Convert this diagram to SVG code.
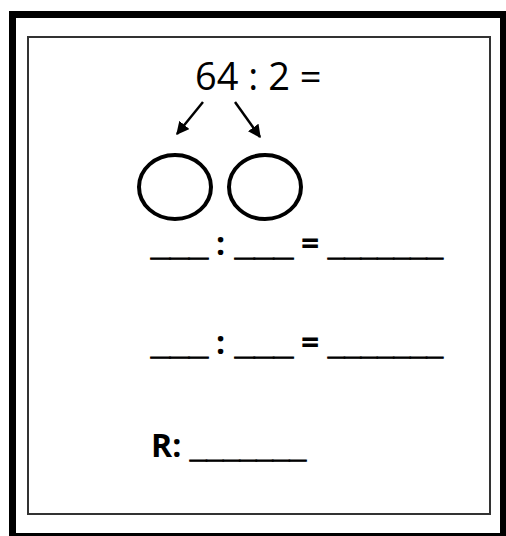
<svg xmlns="http://www.w3.org/2000/svg" width="506" height="536" viewBox="0 0 506 536">
<style>
.b{font-family:"Open Sans","Liberation Sans",sans-serif;font-weight:bold;font-size:32px;fill:#000}
.u{font-family:"Liberation Sans",Arial,sans-serif;font-weight:bold;font-size:32px;fill:#000;stroke:#000;stroke-width:1.2}
.r{font-family:"Open Sans","Liberation Sans",sans-serif;font-size:38px;fill:#000}
.c{fill:none;stroke:#000;stroke-width:4}
.a{stroke:#000;stroke-width:2.5;marker-end:url(#ah)}
</style>
<defs>
<marker id="ah" viewBox="0 0 10 10" refX="9" refY="5" markerUnits="userSpaceOnUse" markerWidth="13" markerHeight="13" orient="auto">
<path d="M0,0 L10,5 L0,10 Z" fill="#000"/>
</marker>
</defs>
<rect width="506" height="536" fill="#fff"/>
<rect x="12.5" y="14.5" width="491" height="522" fill="none" stroke="#000" stroke-width="7"/>
<rect x="28" y="37" width="462" height="477" fill="none" stroke="#333" stroke-width="2"/>
<g id="problem"><text class="r" x="195" y="90">64 : 2 =</text></g>
<g id="connectors">
<line class="a" x1="203" y1="102" x2="177" y2="134"/>
<line class="a" x1="235" y1="102" x2="260" y2="137"/>
</g>
<g id="circle1"><ellipse class="c" cx="175" cy="187" rx="36" ry="32"/></g>
<g id="circle2"><ellipse class="c" cx="265" cy="187" rx="36" ry="32"/></g>
<g id="row1">
<text class="u" x="151" y="255" textLength="57" lengthAdjust="spacingAndGlyphs">___</text>
<text class="b" x="216" y="255">:</text>
<text class="u" x="235" y="255" textLength="58" lengthAdjust="spacingAndGlyphs">___</text>
<text class="b" x="301" y="255">=</text>
<text class="u" x="328" y="255" textLength="115" lengthAdjust="spacingAndGlyphs">_______</text>
</g>
<g id="row2">
<text class="u" x="151" y="354" textLength="57" lengthAdjust="spacingAndGlyphs">___</text>
<text class="b" x="216" y="354">:</text>
<text class="u" x="235" y="354" textLength="58" lengthAdjust="spacingAndGlyphs">___</text>
<text class="b" x="301" y="354">=</text>
<text class="u" x="328" y="354" textLength="115" lengthAdjust="spacingAndGlyphs">_______</text>
</g>
<g id="answer">
<text class="b" x="151" y="457">R:</text>
<text class="u" x="190" y="457" textLength="116" lengthAdjust="spacingAndGlyphs">_______</text>
</g>
</svg>
